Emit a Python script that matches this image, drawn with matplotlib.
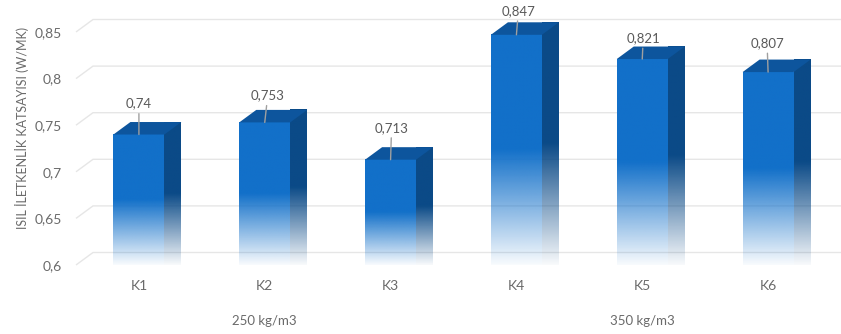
import numpy as np
import matplotlib
matplotlib.use("Agg")
import matplotlib.pyplot as plt
from matplotlib.patches import Polygon
from matplotlib.colors import to_rgb

# Data
categories = ["K1", "K2", "K3", "K4", "K5", "K6"]
values = [0.74, 0.753, 0.713, 0.847, 0.821, 0.807]
value_labels = ["0,74", "0,753", "0,713", "0,847", "0,821", "0,807"]
groups = ["250 kg/m3", "350 kg/m3"]
group_centers = [1, 4]
yticks = [0.6, 0.65, 0.7, 0.75, 0.8, 0.85]
ytick_labels = ["0,6", "0,65", "0,7", "0,75", "0,8", "0,85"]
ylabel = "ISIL İLETKENLİK KATSAYISI (W/MK)"

# Label placement (pixels above the bar's front edge, horizontal nudge)
label_rise_px = [31, 27, 32, 24, 21, 29]
label_shift_px = [0, 3, 1, 2, 1, -1]

plt.rcParams['font.family'] = ['Lato', 'DejaVu Sans']

W, H, DPI = 841, 334, 100
fig = plt.figure(figsize=(W / DPI, H / DPI), dpi=DPI)
ax = fig.add_axes([76 / W, 69 / H, 755 / W, 233 / H])
ax.set_xlim(-0.5, len(categories) - 0.5)
ax.set_ylim(0.6, 0.85)
for s in ax.spines.values():
    s.set_visible(False)

TEXT = '#6a6a6a'
GRID = '#e6e6e6'
FRONT = to_rgb('#1270c9')
SIDE = to_rgb('#0b4a87')
TOP = to_rgb('#0d559d')

# depth of the 3-D effect, in pixels, converted to data units
DEPTH_PX = (17, 12.5)
inv = ax.transData.inverted()
(x0, y0), (x1, y1) = inv.transform([(0, 0), DEPTH_PX])
ddx, ddy = x1 - x0, y1 - y0
xl_edge, xr_edge = ax.get_xlim()
ybase = ax.get_ylim()[0]

# back-wall gridlines with slanted side-wall segment
for v in yticks:
    ax.plot([xl_edge, xl_edge + ddx, xr_edge + ddx],
            [v, v + ddy, v + ddy], color=GRID, lw=1.0,
            clip_on=False, zorder=0, solid_capstyle='butt')


def gradient(rgb, n=256, solid=0.5, min_alpha=0.03):
    t = np.linspace(0, 1, n)
    alpha = np.where(t >= solid, 1.0, min_alpha + (1 - min_alpha) * (t / solid))
    img = np.zeros((n, 1, 4))
    img[..., :3] = rgb
    img[:, 0, 3] = alpha
    return img


bar_w = 0.405
for i, v in enumerate(values):
    xl, xr = i - bar_w / 2, i + bar_w / 2
    # side face
    side = Polygon([(xr, ybase), (xr, v), (xr + ddx, v + ddy), (xr + ddx, ybase + ddy)],
                   closed=True, transform=ax.transData)
    im = ax.imshow(gradient(SIDE), origin='lower', aspect='auto',
                   extent=(xr, xr + ddx, ybase, v + ddy), interpolation='bilinear',
                   zorder=2, clip_on=False)
    im.set_clip_path(side)
    # front face
    ax.imshow(gradient(FRONT), origin='lower', aspect='auto',
              extent=(xl, xr, ybase, v), interpolation='bilinear',
              zorder=3, clip_on=False)
    # top face
    ax.add_patch(Polygon([(xl, v), (xr, v), (xr + ddx, v + ddy), (xl + ddx, v + ddy)],
                         closed=True, facecolor=TOP, edgecolor='none',
                         zorder=3, clip_on=False))
    # value label with leader line
    ax.annotate(value_labels[i], xy=(i, v),
                xytext=(label_shift_px[i] * 0.72, label_rise_px[i] * 0.72),
                textcoords='offset points', ha='center', va='center',
                fontsize=9.5, color='#595959', zorder=5, annotation_clip=False,
                arrowprops=dict(arrowstyle='-', color='#a0a0a0', lw=1.0,
                                shrinkA=1, shrinkB=0))

ax.set_xlim(xl_edge, xr_edge)
ax.set_ylim(0.6, 0.85)

ax.set_yticks(yticks)
ax.set_yticklabels(ytick_labels)
ax.set_xticks(range(len(categories)))
ax.set_xticklabels(categories)
ax.tick_params(axis='y', length=0, pad=10, labelsize=10, labelcolor=TEXT)
ax.tick_params(axis='x', length=0, pad=11, labelsize=10, labelcolor=TEXT)

for g, c in zip(groups, group_centers):
    ax.annotate(g, xy=(c, ybase), xytext=(0, -40), textcoords='offset points',
                ha='center', va='center', fontsize=9.5, color=TEXT,
                annotation_clip=False)

fig.text(22 / W, 1 - 128 / H, ylabel, rotation=90, ha='center', va='center',
         fontsize=9, color=TEXT)

fig.savefig('out.png', dpi=DPI)
